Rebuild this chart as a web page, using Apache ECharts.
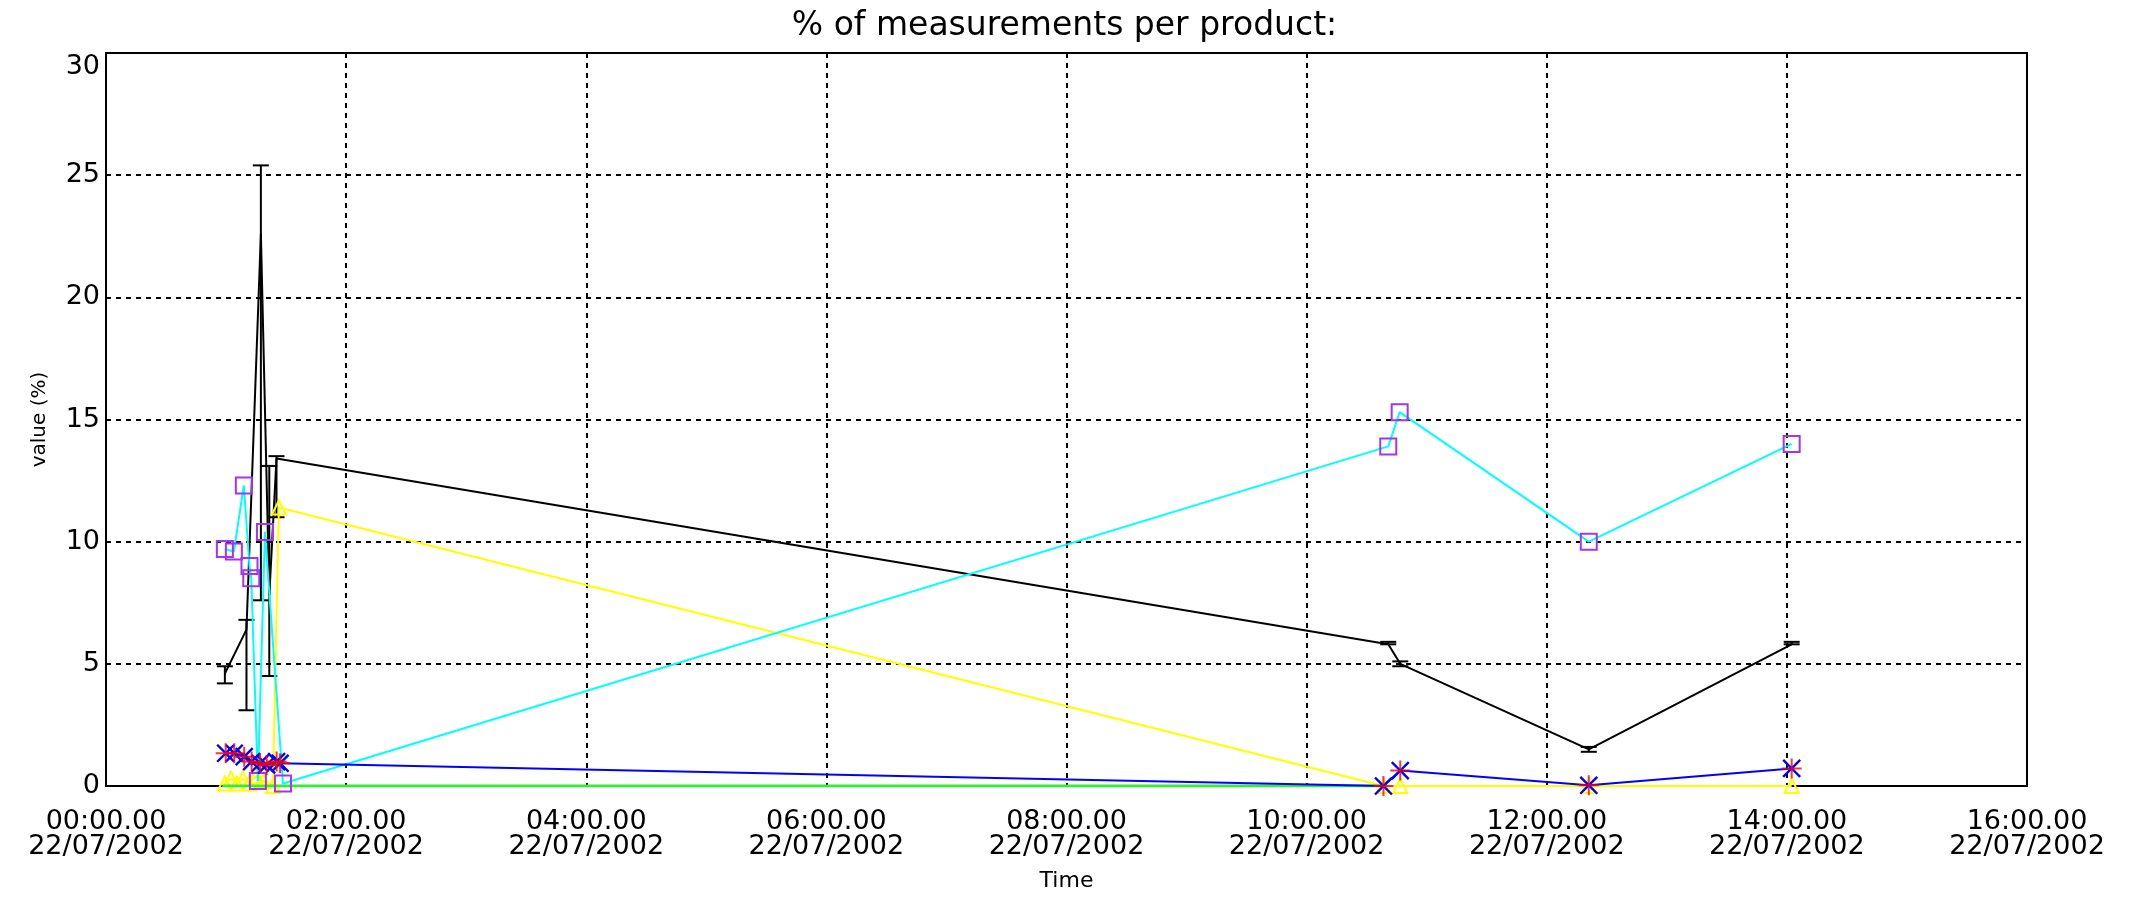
<!DOCTYPE html>
<html>
<head>
<meta charset="utf-8">
<script src="https://cdn.jsdelivr.net/npm/echarts@6.0.0/dist/echarts.min.js"></script>
<style>
  html, body { margin: 0; padding: 0; background: #fff; }
  #chart { width: 2129px; height: 899px; }
</style>
</head>
<body>
<div id="chart"></div>
<script>
// time in hours since 00:00 22/07/2002
var xTickLabels = ['00:00.00', '02:00.00', '04:00.00', '06:00.00', '08:00.00', '10:00.00', '12:00.00', '14:00.00', '16:00.00'];
var xDate = '22/07/2002';

// black product (line + error bars)
var blackTime = [0.99, 1.17, 1.29, 1.36, 1.42, 10.68, 10.78, 12.35, 14.04];
var blackVal  = [4.6, 6.4, 22.6, 7.8, 13.4, 5.8, 5.0, 1.5, 5.8];
var blackLow  = [4.2, 3.1, 7.6, 4.5, 11.0, 5.8, 4.9, 1.4, 5.8];
var blackHigh = [4.9, 6.8, 25.4, 13.1, 13.5, 5.9, 5.1, 1.6, 5.9];

// cyan product (purple squares)
var cyanTime = [0.99, 1.065, 1.148, 1.195, 1.21, 1.265, 1.324, 1.474, 10.68, 10.775, 12.35, 14.04];
var cyanVal  = [9.7, 9.6, 12.3, 9.0, 8.5, 0.2, 10.4, 0.1, 13.9, 15.3, 10.0, 14.0];

// yellow product (triangles)
var yellowTime = [0.99, 1.04, 1.09, 1.14, 1.19, 1.25, 1.31, 1.39, 1.44, 10.64, 10.78, 12.35, 14.04];
var yellowVal  = [0.1, 0.3, 0.1, 0.3, 0.1, 0.4, 0.2, 0.0, 11.4, 0.0, 0.0, 0.0, 0.0];

// green product
var greenTime = [0.97, 1.47, 10.63];
var greenVal  = [0, 0, 0];

// blue product (asterisks)
var blueTime = [0.997, 1.068, 1.151, 1.213, 1.283, 1.338, 1.421, 1.45, 10.64, 10.78, 12.35, 14.04];
var blueVal  = [1.34, 1.34, 1.2, 1.0, 0.93, 0.86, 1.0, 0.93, 0.0, 0.63, 0.03, 0.72];

function pairs(xs, ys) {
  return xs.map(function (x, i) { return [x, ys[i]]; });
}

var plusPath = 'path://M-1,-10L1,-10L1,-1L10,-1L10,1L1,1L1,10L-1,10L-1,1L-10,1L-10,-1L-1,-1Z';
var font = 'DejaVu Sans';

var myChart = echarts.init(document.getElementById('chart'));

var option = {
  animation: false,
  backgroundColor: '#fff',
  title: {
    text: '% of measurements per product:',
    left: 'center',
    top: 5,
    textStyle: { fontFamily: font, fontSize: 33, fontWeight: 'normal', color: '#000' }
  },
  grid: {
    left: 106, right: 102, top: 53, bottom: 113,
    show: true, borderColor: '#000', borderWidth: 2, backgroundColor: '#fff'
  },
  xAxis: {
    type: 'value',
    min: 0, max: 16, interval: 2,
    name: 'Time',
    nameLocation: 'middle',
    nameGap: 84,
    nameTextStyle: { fontFamily: font, fontSize: 22, color: '#000' },
    axisLine: { show: false },
    axisTick: { show: false },
    splitLine: { show: true, lineStyle: { color: '#000', type: [5, 5], width: 2 } },
    axisLabel: {
      margin: 23,
      fontFamily: font, fontSize: 27, lineHeight: 25, color: '#000',
      formatter: function (v) { return xTickLabels[Math.round(v / 2)] + '\n' + xDate; }
    }
  },
  yAxis: {
    type: 'value',
    min: 0, max: 30, interval: 5,
    name: 'value (%)',
    nameLocation: 'middle',
    nameGap: 56,
    nameRotate: 90,
    nameTextStyle: { fontFamily: font, fontSize: 20, color: '#000' },
    axisLine: { show: false },
    axisTick: { show: false },
    splitLine: { show: true, lineStyle: { color: '#000', type: [5, 5], width: 2 } },
    axisLabel: {
      margin: 6,
      fontFamily: font, fontSize: 27, color: '#000',
      verticalAlignMaxLabel: 'top'
    }
  },
  series: [
    {
      name: 'black',
      type: 'line',
      data: pairs(blackTime, blackVal),
      symbol: 'none',
      lineStyle: { color: '#000', width: 2 },
      z: 2
    },
    {
      name: 'blackErr',
      type: 'custom',
      data: blackTime.map(function (t, i) { return [t, blackLow[i], blackHigh[i]]; }),
      encode: { x: 0, y: [1, 2] },
      z: 2,
      renderItem: function (params, api) {
        var lo = api.coord([api.value(0), api.value(1)]);
        var hi = api.coord([api.value(0), api.value(2)]);
        var w = 8;
        var st = { stroke: '#000', lineWidth: 2 };
        return {
          type: 'group',
          children: [
            { type: 'line', shape: { x1: lo[0], y1: lo[1], x2: hi[0], y2: hi[1] }, style: st },
            { type: 'line', shape: { x1: hi[0] - w, y1: hi[1], x2: hi[0] + w, y2: hi[1] }, style: st },
            { type: 'line', shape: { x1: lo[0] - w, y1: lo[1], x2: lo[0] + w, y2: lo[1] }, style: st }
          ]
        };
      }
    },
    {
      name: 'yellow',
      type: 'line',
      data: pairs(yellowTime, yellowVal),
      symbol: 'triangle',
      symbolSize: 14,
      lineStyle: { color: '#ffff00', width: 2 },
      itemStyle: { color: 'rgba(0,0,0,0)', borderColor: '#ffff00', borderWidth: 2 },
      z: 3
    },
    {
      name: 'green',
      type: 'line',
      data: pairs(greenTime, greenVal),
      symbol: 'none',
      lineStyle: { color: '#33ee33', width: 3 },
      z: 4
    },
    {
      name: 'cyan',
      type: 'line',
      data: pairs(cyanTime, cyanVal),
      symbol: 'rect',
      symbolSize: 16,
      lineStyle: { color: '#00ffff', width: 2 },
      itemStyle: { color: 'rgba(0,0,0,0)', borderColor: '#a335ee', borderWidth: 2 },
      z: 5
    },
    {
      name: 'blue',
      type: 'line',
      data: pairs(blueTime, blueVal),
      symbol: plusPath,
      symbolRotate: 45,
      symbolSize: 24,
      lineStyle: { color: '#0000ff', width: 2 },
      itemStyle: { color: '#0000ff' },
      z: 6
    },
    {
      name: 'blueStar',
      type: 'scatter',
      data: pairs(blueTime, blueVal),
      symbol: plusPath,
      symbolSize: 20,
      itemStyle: { color: '#ff0000' },
      z: 7
    }
  ]
};

myChart.setOption(option);
</script>
</body>
</html>
